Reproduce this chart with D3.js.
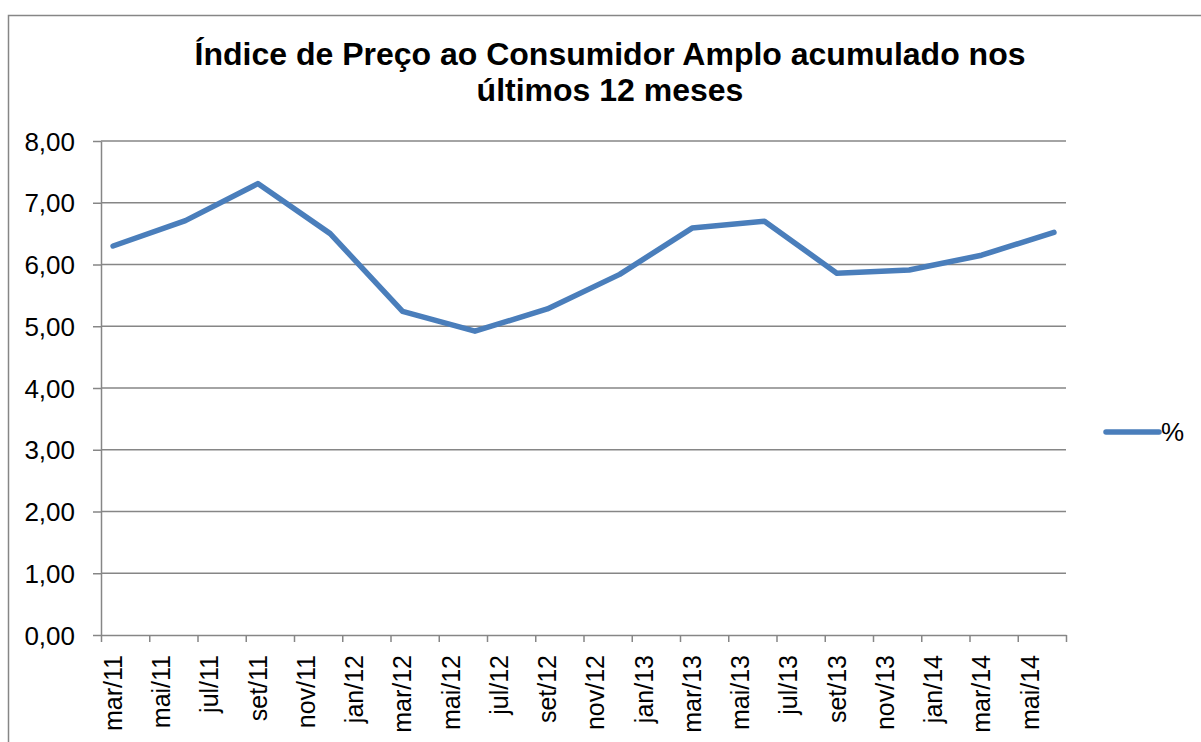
<!DOCTYPE html>
<html>
<head>
<meta charset="utf-8">
<title>IPCA acumulado 12 meses</title>
<script src="https://d3js.org/d3.v7.min.js"></script>
<style>
html, body { margin: 0; padding: 0; background: #fff; }
svg { display: block; font-family: "Liberation Sans", Arial, sans-serif; }
.grid line { stroke: #868686; stroke-width: 1.5; }
.axis path, .axis line { stroke: #868686; stroke-width: 1.5; }
.axis text { fill: #000; font-size: 26px; }
.xl text { font-size: 25px; }
</style>
</head>
<body>
<script>
// monthly category axis, mar/11 .. jun/14
const months = ['mar/11','abr/11','mai/11','jun/11','jul/11','ago/11','set/11','out/11','nov/11','dez/11',
  'jan/12','fev/12','mar/12','abr/12','mai/12','jun/12','jul/12','ago/12','set/12','out/12','nov/12','dez/12',
  'jan/13','fev/13','mar/13','abr/13','mai/13','jun/13','jul/13','ago/13','set/13','out/13','nov/13','dez/13',
  'jan/14','fev/14','mar/14','abr/14','mai/14','jun/14'];
// quarterly observations
const obsMonths = ['mar/11','jun/11','set/11','dez/11','mar/12','jun/12','set/12','dez/12',
  'mar/13','jun/13','set/13','dez/13','mar/14','jun/14'];
const ipca = [6.30, 6.71, 7.31, 6.50, 5.24, 4.92, 5.28, 5.84, 6.59, 6.70, 5.86, 5.91, 6.15, 6.52];
const yTicks = [0, 1, 2, 3, 4, 5, 6, 7, 8];
const labelMonths = months.filter((m, i) => i % 2 === 0);
const seriesName = '%';

const W = 1201, H = 742;
const plotL = 101, plotR = 1066, plotT = 141, plotB = 635;

const svg = d3.select('body').append('svg').attr('width', W).attr('height', H);

// chart border
svg.append('rect').attr('x', 8.5).attr('y', 15.5).attr('width', 1300).attr('height', 800)
  .attr('fill', 'none').attr('stroke', '#868686').attr('stroke-width', 1.5);

svg.append('text').attr('x', 610).attr('y', 65).attr('text-anchor', 'middle')
  .attr('font-size', 32).attr('font-weight', 'bold')
  .text('Índice de Preço ao Consumidor Amplo acumulado nos');
svg.append('text').attr('x', 610).attr('y', 101).attr('text-anchor', 'middle')
  .attr('font-size', 32).attr('font-weight', 'bold')
  .text('últimos 12 meses');

const x = d3.scaleBand().domain(months).range([plotL, plotR]).paddingInner(0).paddingOuter(0);
const xIdx = d3.scaleLinear().domain([0, months.length]).range([plotL, plotR]);
const y = d3.scaleLinear().domain([0, 8]).range([plotB, plotT]);

// gridlines
svg.append('g').attr('class', 'grid')
  .selectAll('line').data(yTicks.filter(d => d > 0)).enter().append('line')
  .attr('x1', plotL).attr('x2', plotR).attr('y1', d => y(d)).attr('y2', d => y(d));

// y axis
const yAxis = svg.append('g').attr('class', 'axis').attr('transform', `translate(${plotL},0)`)
  .call(d3.axisLeft(y).tickValues(yTicks).tickSize(8).tickSizeOuter(0).tickPadding(18)
    .tickFormat(d => d3.format('.2f')(d).replace('.', ',')));
yAxis.selectAll('text').attr('dy', '0.35em');

// x axis tick marks at every second month boundary
svg.append('g').attr('class', 'axis').attr('transform', `translate(0,${plotB})`)
  .call(d3.axisBottom(xIdx).tickValues(d3.range(0, months.length + 1, 2)).tickSize(7).tickSizeOuter(0).tickFormat(''));

// x labels at month centers
const xAxis = svg.append('g').attr('class', 'axis xl').attr('transform', `translate(0,${plotB})`)
  .call(d3.axisBottom(x).tickValues(labelMonths).tickSize(0).tickPadding(0));
xAxis.select('.domain').remove();
xAxis.selectAll('text')
  .attr('transform', 'rotate(-90)')
  .attr('text-anchor', 'end')
  .attr('x', -20).attr('y', 0).attr('dy', '0.35em');

// series line
const pts = obsMonths.map((m, i) => [x(m) + x.bandwidth() / 2, y(ipca[i])]);
svg.append('path').datum(pts)
  .attr('fill', 'none').attr('stroke', '#4a7ebb').attr('stroke-width', 5.5)
  .attr('stroke-linejoin', 'round').attr('stroke-linecap', 'round')
  .attr('d', d3.line());

// legend
const lg = svg.append('g').attr('transform', 'translate(1106,432)');
lg.append('line').attr('x1', 0).attr('x2', 53).attr('y1', 0).attr('y2', 0)
  .attr('stroke', '#4a7ebb').attr('stroke-width', 5.5).attr('stroke-linecap', 'round');
lg.append('text').attr('x', 55).attr('y', 9).attr('font-size', 26).text(seriesName);
</script>
</body>
</html>
